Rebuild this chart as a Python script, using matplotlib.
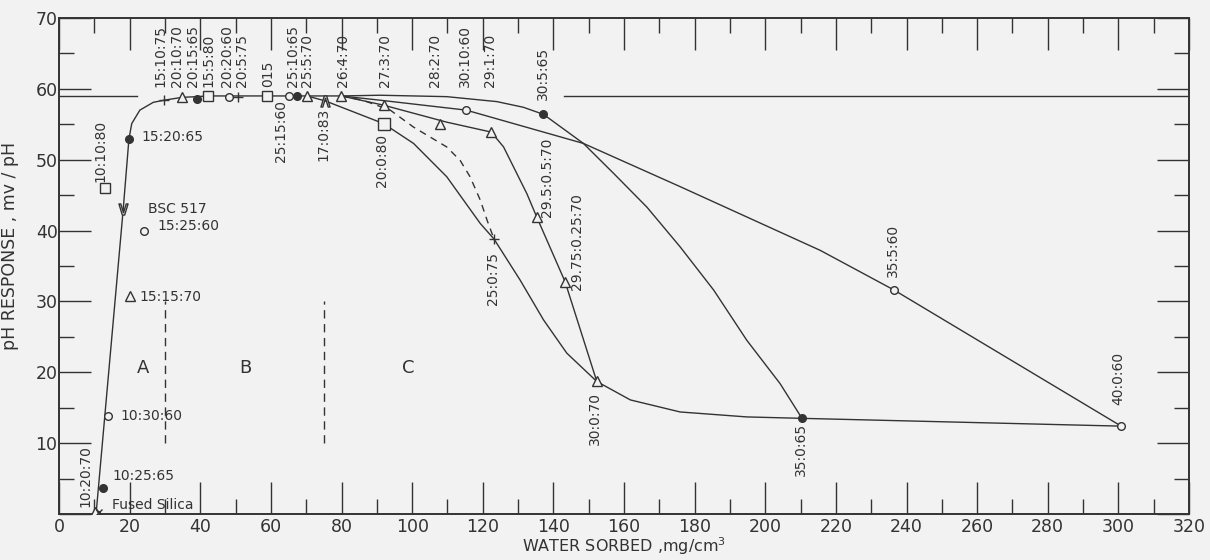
import matplotlib
matplotlib.use('Agg')
import matplotlib.pyplot as plt
from matplotlib.ticker import MultipleLocator

plt.rcParams['font.family'] = ['DejaVu Sans']
plt.rcParams['mathtext.default'] = 'regular'

BG = '#f2f2f2'
INK = '#333333'

# ---------------- data ----------------
# main rising curve + plateau
main_x = [10.5, 18.2, 19.8, 20.6, 22.9, 26.7, 29.8, 34.8, 39.0, 42.1, 48.0, 50.8, 58.8, 65.0, 67.3, 70.2, 79.9]
main_y = [0.0, 43.1, 52.9, 55.1, 57.0, 58.1, 58.4, 58.8, 58.9, 59.0, 59.0, 59.0, 59.0, 59.0, 59.0, 59.0, 59.0]

# x:0:y branch (17:0:83 -> 40:0:60)
branch_x = [70.2, 75.4, 91.9, 100.4, 109.8, 119.3, 123.2, 130.6, 137.2, 143.8, 152.3, 161.8, 175.9, 194.8, 210.4, 300.8]
branch_y = [59.0, 58.3, 55.1, 52.3, 47.6, 41.0, 38.8, 33.0, 27.4, 22.7, 18.7, 16.1, 14.4, 13.7, 13.5, 12.4]

# dashed curve to 25:0:75
dash_x = [79.9, 86.0, 93.8, 100.4, 109.8, 113.6, 116.4, 119.3, 121.2, 123.2]
dash_y = [59.0, 58.4, 57.0, 54.6, 51.8, 49.9, 47.6, 44.3, 41.5, 38.8]

# x:y:70 series
tri_x = [79.9, 91.9, 109.8, 122.4, 125.9, 128.7, 132.5, 135.3, 143.3, 152.3]
tri_y = [59.0, 57.7, 55.3, 53.9, 51.8, 49.0, 45.2, 41.9, 32.8, 18.7]

# x:y:60 series
circ_x = [79.9, 90.9, 115.3, 148.5, 175.9, 215.6, 236.5, 300.8]
circ_y = [59.0, 58.4, 57.0, 52.3, 46.2, 37.2, 31.6, 12.4]

# x:y:65 series
dot_x = [79.9, 90.9, 109.8, 124.0, 131.5, 137.2, 148.5, 157.0, 166.5, 175.9, 185.4, 194.8, 204.2, 210.4]
dot_y = [59.0, 59.1, 58.9, 58.2, 57.4, 56.4, 52.3, 48.1, 43.3, 37.7, 31.6, 24.5, 18.4, 13.5]

# theoretical response level
ref_level = 59.0
ref_left = [0, 22]
ref_right = [143, 320]

# region dividers
divider_x = [30, 75]
divider_y = [10, 30]
regions = ['A', 'B', 'C']
region_x = [23.7, 52.7, 98.9]
region_y = [20.6, 20.6, 20.6]

# glass compositions (measured points)
comp = ['10:20:70', 'Fused Silica', '10:25:65', '10:30:60', '15:15:70', '15:25:60',
        '10:10:80', 'vpt', '15:20:65', '15:10:75', '20:10:70', '20:15:65', '15:5:80',
        '20:20:60', '20:5:75', '015', '25:15:60', '25:10:65', '25:5:70', '17:0:83',
        '26:4:70', '20:0:80', '27:3:70', '28:2:70', '30:10:60', '29:1:70', '25:0:75',
        '29.5:0.5:70', '30:5:65', '29.75:0.25:70', '30:0:70', '35:0:65', '35:5:60', '40:0:60']
comp_x = [10.2, 11.4, 12.4, 13.9, 20.1, 24.0,
          13.0, 18.2, 19.8, 29.8, 34.8, 39.0, 42.1,
          48.0, 50.8, 58.8, 65.0, 67.3, 70.2, 75.4,
          79.9, 91.9, 91.9, 107.9, 115.3, 122.4, 123.2,
          135.3, 137.2, 143.3, 152.3, 210.4, 236.5, 300.8]
comp_y = [0.3, 0.3, 3.7, 13.8, 30.7, 39.9,
          46.0, 43.1, 52.9, 58.4, 58.8, 58.5, 59.0,
          58.8, 58.9, 59.0, 59.0, 59.0, 59.0, 58.3,
          59.0, 55.1, 57.7, 55.1, 57.0, 53.9, 38.8,
          41.9, 56.4, 32.8, 18.7, 13.5, 31.6, 12.4]

x_ticks = list(range(0, 321, 20))
y_ticks = list(range(0, 71, 10))
y_ticklabels = [''] + [str(v) for v in y_ticks[1:]]

# ---------------- styles / layout ----------------
marker_of = {}
for c in ['10:20:70', '15:15:70', '20:10:70', '25:5:70', '26:4:70', '27:3:70', '28:2:70',
          '29:1:70', '29.5:0.5:70', '29.75:0.25:70', '30:0:70']:
    marker_of[c] = ('^', 'open', 7)
for c in ['10:25:65', '15:20:65', '20:15:65', '25:10:65', '30:5:65', '35:0:65']:
    marker_of[c] = ('o', 'filled', 5.5)
for c in ['10:30:60', '15:25:60', '20:20:60', '25:15:60', '30:10:60', '35:5:60', '40:0:60']:
    marker_of[c] = ('o', 'open', 5.5)
for c in ['10:10:80', '15:5:80', '015']:
    marker_of[c] = ('s', 'open', 6.5)
marker_of['20:0:80'] = ('s', 'open', 9)
for c in ['15:10:75', '20:5:75', '25:0:75']:
    marker_of[c] = ('+', 'open', 7)
marker_of['Fused Silica'] = ('x', 'open', 5)
marker_of['vpt'] = (r'$\vee$', 'open', 8)
marker_of['17:0:83'] = (r'$\wedge$', 'open', 8)

# label placement: (text, x, y, rotation, ha, va)
labels = [
    ('15:10:75', 28.6, 60.2, 90, 'center', 'bottom'),
    ('20:10:70', 33.3, 60.2, 90, 'center', 'bottom'),
    ('20:15:65', 38.0, 60.2, 90, 'center', 'bottom'),
    ('15:5:80', 42.3, 60.2, 90, 'center', 'bottom'),
    ('20:20:60', 47.5, 60.2, 90, 'center', 'bottom'),
    ('20:5:75', 51.7, 60.2, 90, 'center', 'bottom'),
    ('015', 59.3, 60.2, 90, 'center', 'bottom'),
    ('25:10:65', 66.4, 60.2, 90, 'center', 'bottom'),
    ('25:5:70', 70.2, 60.2, 90, 'center', 'bottom'),
    ('26:4:70', 80.5, 60.2, 90, 'center', 'bottom'),
    ('27:3:70', 92.3, 60.2, 90, 'center', 'bottom'),
    ('28:2:70', 106.5, 60.2, 90, 'center', 'bottom'),
    ('30:10:60', 115.0, 60.2, 90, 'center', 'bottom'),
    ('29:1:70', 122.1, 60.2, 90, 'center', 'bottom'),
    ('30:5:65', 137.1, 58.4, 90, 'center', 'bottom'),
    ('25:15:60', 63.0, 58.4, 90, 'center', 'top'),
    ('17:0:83', 74.9, 57.4, 90, 'center', 'top'),
    ('20:0:80', 91.5, 53.7, 90, 'center', 'top'),
    ('25:0:75', 123.0, 37.0, 90, 'center', 'top'),
    ('29.5:0.5:70', 138.3, 41.9, 90, 'center', 'bottom'),
    ('29.75:0.25:70', 146.7, 31.6, 90, 'center', 'bottom'),
    ('30:0:70', 151.8, 17.2, 90, 'center', 'top'),
    ('35:0:65', 210.0, 12.8, 90, 'center', 'top'),
    ('35:5:60', 236.3, 33.4, 90, 'center', 'bottom'),
    ('40:0:60', 300.0, 15.4, 90, 'center', 'bottom'),
    ('10:10:80', 11.6, 46.8, 90, 'center', 'bottom'),
    ('10:20:70', 7.4, 1.0, 90, 'center', 'bottom'),
    ('15:20:65', 23.4, 53.2, 0, 'left', 'center'),
    ('BSC 517', 25.2, 43.1, 0, 'left', 'center'),
    ('15:25:60', 27.8, 40.6, 0, 'left', 'center'),
    ('15:15:70', 22.9, 30.6, 0, 'left', 'center'),
    ('10:30:60', 17.3, 13.8, 0, 'left', 'center'),
    ('10:25:65', 15.0, 5.4, 0, 'left', 'center'),
    ('Fused Silica', 15.0, 1.3, 0, 'left', 'center'),
]

# ---------------- figure ----------------
fig = plt.figure(figsize=(12.1, 5.6), dpi=100, facecolor=BG)
ax = fig.add_axes([59 / 1210, 46 / 560, 1130 / 1210, 496 / 560], facecolor=BG)

lw = 1.0
ax.plot(main_x, main_y, color=INK, lw=lw, zorder=2)
ax.plot(branch_x, branch_y, color=INK, lw=lw, zorder=2)
ax.plot(tri_x, tri_y, color=INK, lw=lw, zorder=2)
ax.plot(circ_x, circ_y, color=INK, lw=lw, zorder=2)
ax.plot(dot_x, dot_y, color=INK, lw=lw, zorder=2)
ax.plot(dash_x, dash_y, color=INK, lw=lw, ls=(0, (5, 4)), zorder=2)

ax.plot(ref_left, [ref_level, ref_level], color=INK, lw=lw, zorder=2)
ax.plot(ref_right, [ref_level, ref_level], color=INK, lw=lw, zorder=2)

for dx in divider_x:
    ax.plot([dx, dx], divider_y, color=INK, lw=1.0, ls=(0, (6, 4)), zorder=2)

for name, x, y in zip(comp, comp_x, comp_y):
    m, fill, ms = marker_of[name]
    fc = INK if fill == 'filled' else BG
    ax.plot([x], [y], marker=m, ms=ms, mec=INK, mfc=fc, mew=1.0, ls='none', zorder=3)

for text, x, y, rot, ha, va in labels:
    ax.text(x, y, text, rotation=rot, ha=ha, va=va, fontsize=10, color=INK, zorder=4)

for r, x, y in zip(regions, region_x, region_y):
    ax.text(x, y, r, ha='center', va='center', fontsize=13, color=INK)

ax.set_xlim(0, 320)
ax.set_ylim(0, 70)
ax.set_xticks(x_ticks)
ax.set_yticks(y_ticks)
ax.set_yticklabels(y_ticklabels)
ax.xaxis.set_minor_locator(MultipleLocator(10))
ax.yaxis.set_minor_locator(MultipleLocator(5))
ax.tick_params(which='both', direction='in', top=True, right=True, colors=INK,
               labelsize=12.5, width=1.0)
ax.tick_params(which='major', length=23, pad=3)
ax.tick_params(which='minor', length=11)
ax.tick_params(axis='y', pad=1)
for s in ax.spines.values():
    s.set_color(INK)
    s.set_linewidth(1.4)

ax.set_xlabel('WATER SORBED ,mg/cm$^{3}$', fontsize=11.5, color=INK, va='top')
ax.xaxis.set_label_coords(0.5, -0.042)
ax.set_ylabel('pH RESPONSE , mv / pH', fontsize=12.5, color=INK)
ax.yaxis.set_label_coords(-0.035, 0.54)

fig.savefig('out.png', dpi=100, facecolor=BG)
